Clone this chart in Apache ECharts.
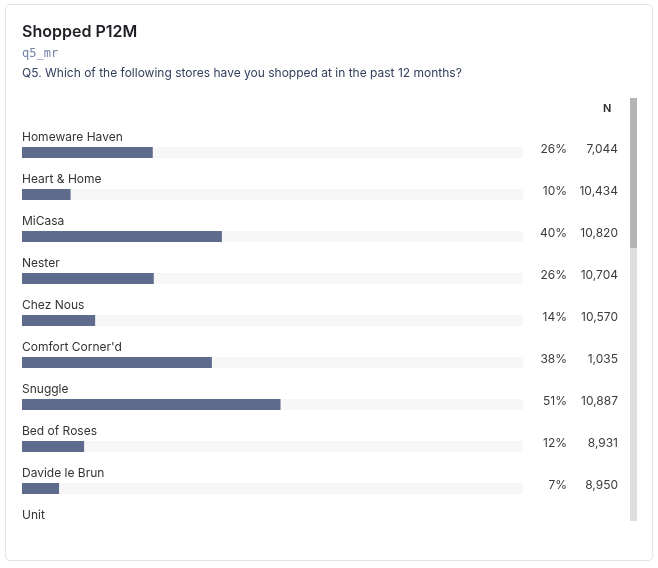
<!DOCTYPE html>
<html>
<head>
<meta charset="utf-8">
<script src="https://cdn.jsdelivr.net/npm/echarts@6/dist/echarts.min.js"></script>
<style>
  html, body { margin: 0; padding: 0; background: #fff; }
  #card {
    position: absolute; left: 5px; top: 4px; width: 648px; height: 557px;
    box-sizing: border-box; border: 1px solid #e4e4e4; border-radius: 5px;
  }
  #view { position: absolute; left: 0; top: 0; width: 625px; height: 521px; overflow: hidden; }
  #chart { position: absolute; left: 0; top: 0; width: 625px; height: 560px; }
  .track { position: absolute; left: 630px; top: 98px; width: 7px; height: 423px; background: #dedede; }
  .thumb { position: absolute; left: 630px; top: 98px; width: 7px; height: 150px; background: #b4b4b4; }
</style>
</head>
<body>
<div id="card"></div>
<div class="track"></div>
<div class="thumb"></div>
<div id="view"><div id="chart"></div></div>
<script>
const stores = ["Homeware Haven", "Heart & Home", "MiCasa", "Nester", "Chez Nous",
  "Comfort Corner'd", "Snuggle", "Bed of Roses", "Davide le Brun", "Unit"];
// bar lengths (%); Unit is scrolled out of view
const shares = [26.1, 9.7, 39.9, 26.3, 14.6, 37.9, 51.6, 12.4, 7.4, null];
const pctText = ["26%", "10%", "40%", "26%", "14%", "38%", "51%", "12%", "7%", ""];
const nText = ["7,044", "10,434", "10,820", "10,704", "10,570", "1,035", "10,887", "8,931", "8,950", ""];

const font = "Inter, 'Noto Sans', sans-serif";
const chart = echarts.init(document.getElementById("chart"));

chart.setOption({
  animation: false,
  textStyle: { fontFamily: font },
  graphic: [
    { type: "text", left: 22, top: 24, style: { text: "Shopped P12M", font: "600 16px " + font, fill: "#1d1f24" } },
    { type: "text", left: 22, top: 48, style: { text: "q5_mr", font: "12px 'DejaVu Sans Mono', monospace", fill: "#7282a6" } },
    { type: "text", left: 22, top: 67, style: { text: "Q5. Which of the following stores have you shopped at in the past 12 months?", font: "12px " + font, fill: "#33405c" } },
    { type: "text", left: 603, top: 103, style: { text: "N", font: "600 11px " + font, fill: "#2a2a2a" } }
  ],
  grid: { left: 22, right: 102, top: 131.5, bottom: 8.5, containLabel: false },
  xAxis: { type: "value", min: 0, max: 100, show: false },
  yAxis: [
    {
      type: "category", data: stores, inverse: true, z: 10,
      axisLine: { show: false }, axisTick: { show: false }, splitLine: { show: false },
      axisLabel: {
        inside: true, margin: 0, align: "left",
        formatter: (v) => "{a|" + v + "}\n{s| }",
        rich: {
          a: { fontSize: 12, lineHeight: 14, color: "#333333", fontFamily: font },
          s: { fontSize: 12, lineHeight: 31 }
        }
      }
    },
    {
      type: "category", data: stores, inverse: true, position: "right",
      axisLine: { show: false }, axisTick: { show: false }, splitLine: { show: false },
      axisLabel: {
        margin: 0, align: "left", padding: [0, 0, 7, 0],
        formatter: (v, i) => pctText[i] ? "{p|" + pctText[i] + "}{n|" + nText[i] + "}" : "",
        rich: {
          p: { width: 44, align: "right", fontSize: 12, color: "#3c3c3c", fontFamily: font },
          n: { width: 51, align: "right", fontSize: 12, color: "#3c3c3c", fontFamily: font }
        }
      }
    }
  ],
  series: [
    {
      type: "bar", yAxisIndex: 0, data: shares, barWidth: 11,
      itemStyle: { color: "#5f6b8d" },
      showBackground: true, backgroundStyle: { color: "#f7f7f7" }
    }
  ]
});
</script>
</body>
</html>
